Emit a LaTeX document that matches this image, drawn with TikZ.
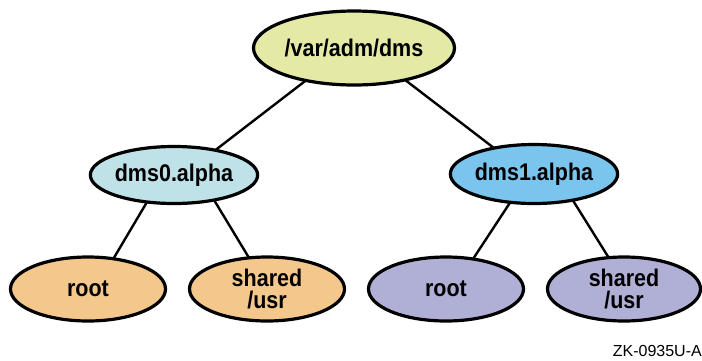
\documentclass[tikz,border=0pt]{standalone}
\usepackage{fontspec}
\usepackage{graphicx}
\setmainfont{Liberation Sans}
\usetikzlibrary{shapes.geometric}
\definecolor{topfill}{RGB}{228,234,166}
\definecolor{lbluefill}{RGB}{190,226,232}
\definecolor{bluefill}{RGB}{122,197,237}
\definecolor{orangefill}{RGB}{244,200,140}
\definecolor{lavfill}{RGB}{176,176,214}
\newcommand{\vstretch}[1]{\scalebox{1}[1.12]{#1}}
\tikzset{
  dirnode/.style={ellipse, draw=black, line width=3.2pt, inner sep=0pt, outer sep=0pt,
    font=\fontsize{21.5pt}{22pt}\selectfont\bfseries, align=center},
  link/.style={draw=black, line width=2.4pt},
  tagtext/.style={font=\fontsize{16pt}{18pt}\selectfont, inner sep=0pt, anchor=base east}
}
\begin{document}
\begin{tikzpicture}
\useasboundingbox (0pt,0pt) rectangle (702pt,-360pt);
\node[dirnode, fill=topfill, minimum width=201pt, minimum height=74pt] (top) at (354pt,-48pt) {\vstretch{/var/adm/dms}};
\node[dirnode, fill=lbluefill, minimum width=155pt, minimum height=57pt] (d0) at (174pt,-175pt) {\vstretch{dms0.alpha}};
\node[dirnode, fill=bluefill, minimum width=156pt, minimum height=59pt] (d1) at (534pt,-174pt) {\vstretch{dms1.alpha}};
\node[dirnode, fill=orangefill, minimum width=155pt, minimum height=64pt] (r0) at (88pt,-289pt) {\vstretch{root}};
\node[dirnode, fill=orangefill, minimum width=155pt, minimum height=64pt] (s0) at (267pt,-289pt) {\vstretch{shared}\\\vstretch{/usr}};
\node[dirnode, fill=lavfill, minimum width=155pt, minimum height=64pt] (r1) at (446pt,-289pt) {\vstretch{root}};
\node[dirnode, fill=lavfill, minimum width=153pt, minimum height=64pt] (s1) at (624pt,-289pt) {\vstretch{shared}\\\vstretch{/usr}};
\node[tagtext] (tag) at (702pt,-356pt) {ZK-0935U-A};
\draw[link] (top.214.5) -- (d0.31.5);
\draw[link] (top.-32.5) -- (d1.147.5);
\draw[link] (d0.-135) -- (r0.50.7);
\draw[link] (d0.-32) -- (s0.120);
\draw[link] (d1.-130) -- (r1.48.7);
\draw[link] (d1.-34) -- (s1.116);
\end{tikzpicture}
\end{document}
